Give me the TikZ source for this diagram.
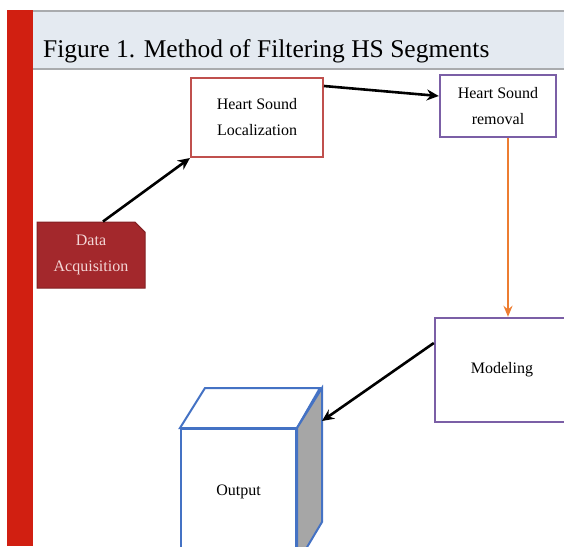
\documentclass[tikz,border=0pt]{standalone}
\usepackage{fontspec}
\setmainfont{Liberation Serif}
\usepackage{tikz}
\usepackage{xcolor}
\usetikzlibrary{arrows.meta, shapes.misc}

\definecolor{barred}{HTML}{D11F11}
\definecolor{headfill}{HTML}{E4EAF1}
\definecolor{headline}{HTML}{A9ABAE}
\definecolor{acqfill}{HTML}{A3282C}
\definecolor{acqtext}{HTML}{F3D6D6}
\definecolor{locred}{HTML}{C0504D}
\definecolor{boxpurple}{HTML}{7B5FA6}
\definecolor{cubeblue}{HTML}{4472C4}
\definecolor{arrorange}{HTML}{ED7D31}

\tikzset{
	blk/.style={align=center, font=\fontsize{16}{26}\selectfont, inner sep=0pt},
	flow/.style={-{Stealth[length=12pt, width=11pt]}, line width=2.6pt},
}

\begin{document}
\begin{tikzpicture}[x=1pt, y=1pt]
	\useasboundingbox (0, 0) rectangle (564, -546);
	\clip (0, 0) rectangle (564, -546);

	% page decoration and title
	\fill[barred] (7, -10) rectangle (33, -546);
	\fill[headfill] (33, -11) rectangle (564, -69);
	\draw[headline, line width=2] (33, -11) -- (564, -11);
	\draw[headline, line width=2] (33, -69) -- (564, -69);
	\node[anchor=base west, inner sep=0pt, font=\fontsize{25.5}{30}\selectfont] (title) at (43, -57) {Figure 1. Method of Filtering HS Segments};

	% blocks
	\node[blk, chamfered rectangle, chamfered rectangle corners=north east, chamfered rectangle xsep=7pt,
		fill=acqfill, draw=acqfill!80!black, line width=1, text=acqtext,
		minimum width=108, minimum height=66] (acq) at (91, -255) {Data\\Acquisition};
	\node[blk, draw=locred, line width=2, fill=white, minimum width=132, minimum height=79] (loc) at (257, -117.5) {Heart Sound\\Localization};
	\node[blk, draw=boxpurple, line width=2.4, fill=white, minimum width=116, minimum height=62] (rem) at (498, -106) {Heart Sound\\removal};
	\node[blk, draw=boxpurple, line width=2.4, fill=white, minimum width=134, minimum height=104] (mod) at (502, -370) {Modeling};

	% output cube
	\node[blk, draw=cubeblue, line width=2, fill=white, minimum width=115, minimum height=134, text depth=12pt] (out) at (238.5, -496) {Output};
	\draw[cubeblue, line width=2, fill=white] (out.north west) -- ++(25, 40) -- ++(115, 0) -- (out.north east) -- cycle;
	\draw[cubeblue, line width=2, fill=black!35] (out.north east) -- ++(25, 40) -- ++(0, -134) -- (out.south east) -- cycle;
	\coordinate (side) at ([shift={(25, 7)}]out.north east);

	% connectors
	\draw[flow] ([xshift=12]acq.north) -- (loc.south west);
	\draw[flow] ([yshift=-9]loc.north east) -- ([yshift=10]rem.west);
	\draw[-{Stealth[length=11pt, width=9pt]}, arrorange, line width=1.8] ([xshift=10]rem.south) -- ([xshift=10]rem.south |- mod.north);
	\draw[flow] ([yshift=27]mod.west) -- (side);
\end{tikzpicture}
\end{document}
